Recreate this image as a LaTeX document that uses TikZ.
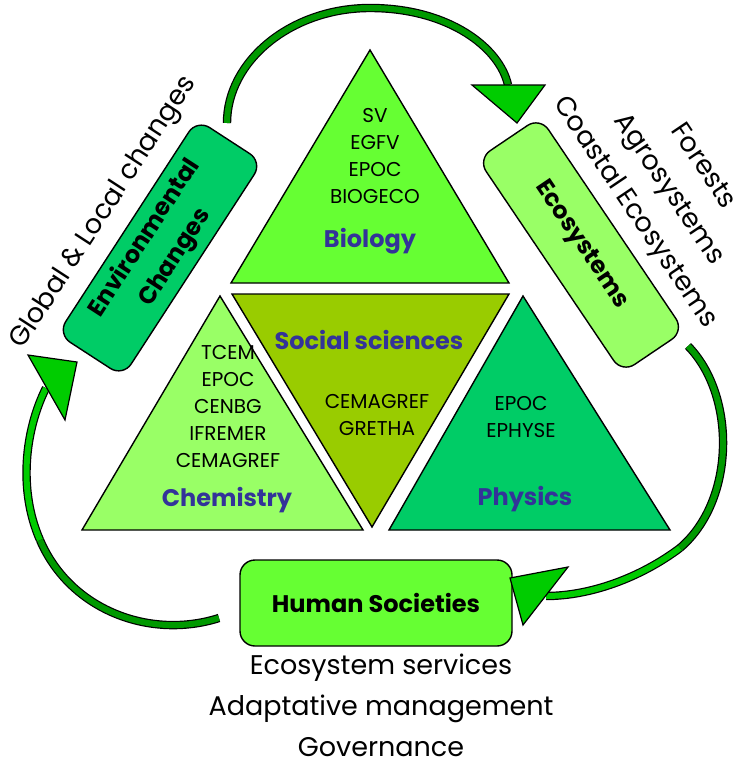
\documentclass[tikz,border=0pt]{standalone}
\usepackage{fontspec}
\setmainfont{Poppins}
\definecolor{biogreen}{RGB}{102,255,51}
\definecolor{socgreen}{RGB}{153,204,0}
\definecolor{chemgreen}{RGB}{153,255,102}
\definecolor{physgreen}{RGB}{0,204,102}
\definecolor{arrowgreen}{RGB}{0,204,0}
\definecolor{darkarrow}{RGB}{0,153,0}
\definecolor{titleblue}{RGB}{51,51,153}

\begin{document}
\begin{tikzpicture}[
        x=0.5pt, y=-0.5pt,
        tri/.style={draw=black, line width=0.7pt, fill=#1, line join=miter},
        box/.style={draw=black, line width=0.7pt, rounded corners=7.5pt, fill=#1,
            font=\fontsize{12}{18}\selectfont\bfseries, align=center},
        member/.style={font=\fontsize{10}{13.5}\selectfont, align=center},
        discipline/.style={font=\fontsize{12}{15}\selectfont\bfseries, text=titleblue, anchor=base},
        outer/.style={font=\fontsize{13.5}{20.5}\selectfont, align=center},
        shaft/.style={draw=black, line width=0.6pt, double=#1, double distance=3pt},
        tipshape/.style={draw=black, line width=0.6pt, fill=arrowgreen, line join=miter}
    ]
    \useasboundingbox (0,0) rectangle (736,760);

    \filldraw[tri=biogreen] (370,50) -- (509,283) -- (231,283) -- cycle;
    \filldraw[tri=socgreen] (232,294) -- (509,294) -- (372,527) -- cycle;
    \filldraw[tri=chemgreen] (220,296) -- (363,530) -- (82,530) -- cycle;
    \filldraw[tri=physgreen] (523,296) -- (670,530) -- (389,530) -- cycle;

    \node[member] (biolist) at (375,156) {SV\\EGFV\\EPOC\\BIOGECO};
    \node[discipline] (bio) at (370,247) {Biology};
    \node[discipline] (soc) at (369,349) {Social sciences};
    \node[member] (soclist) at (377,415) {CEMAGREF\\GRETHA};
    \node[member] (chemlist) at (228,406) {TCEM\\EPOC\\CENBG\\IFREMER\\CEMAGREF};
    \node[discipline] (chem) at (227,506) {Chemistry};
    \node[member] (physlist) at (521,417) {EPOC\\EPHYSE};
    \node[discipline] (phys) at (525,505) {Physics};

    \node[box=physgreen, rotate=57, minimum width=128pt, minimum height=39pt] (env) at (160,248) {Environmental\\Changes};
    \node[box=chemgreen, rotate=-56, minimum width=129pt, minimum height=37.5pt] (eco) at (581,245) {Ecosystems};
    \node[box=biogreen, minimum width=136pt, minimum height=43pt] (hum) at (376,603) {Human Societies};

    \node[outer, rotate=57] (global) at (104,213) {Global \& Local changes};
    \node[outer, rotate=-56] (ecotypes) at (668,190) {Forests\\Agrosystems\\Coastal Ecosystems};
    \node[outer] (services) at (381,705) {Ecosystem services\\Adaptative management\\Governance};

    \coordinate (envout) at (227,123);
    \coordinate (ecoin) at (508,85);
    \coordinate (ecoout) at (688,346);
    \coordinate (humin) at (546,596);
    \coordinate (humout) at (219,618);
    \coordinate (envin) at (46,388);

    \draw[shaft=darkarrow] (envout) .. controls (227,61) and (291,8) .. (370,8) .. controls (449,8) and (500,48) .. (ecoin);
    \draw[shaft=darkarrow] (ecoout) .. controls (736,395) and (736,500) .. (680,548);
    \draw[shaft=arrowgreen] (680,548) .. controls (640,578) and (590,596) .. (humin);
    \draw[shaft=darkarrow] (humout) .. controls (150,640) and (70,610) .. (40,540);
    \draw[shaft=arrowgreen] (40,540) .. controls (18,490) and (25,430) .. (envin);

    \filldraw[tipshape] (472,85) -- (517,123) -- (545,85) -- cycle;
    \filldraw[tipshape] (568,567) -- (510,578) -- (523,625) -- cycle;
    \filldraw[tipshape] (28,355) -- (77,362) -- (65,420) -- cycle;
\end{tikzpicture}
\end{document}
